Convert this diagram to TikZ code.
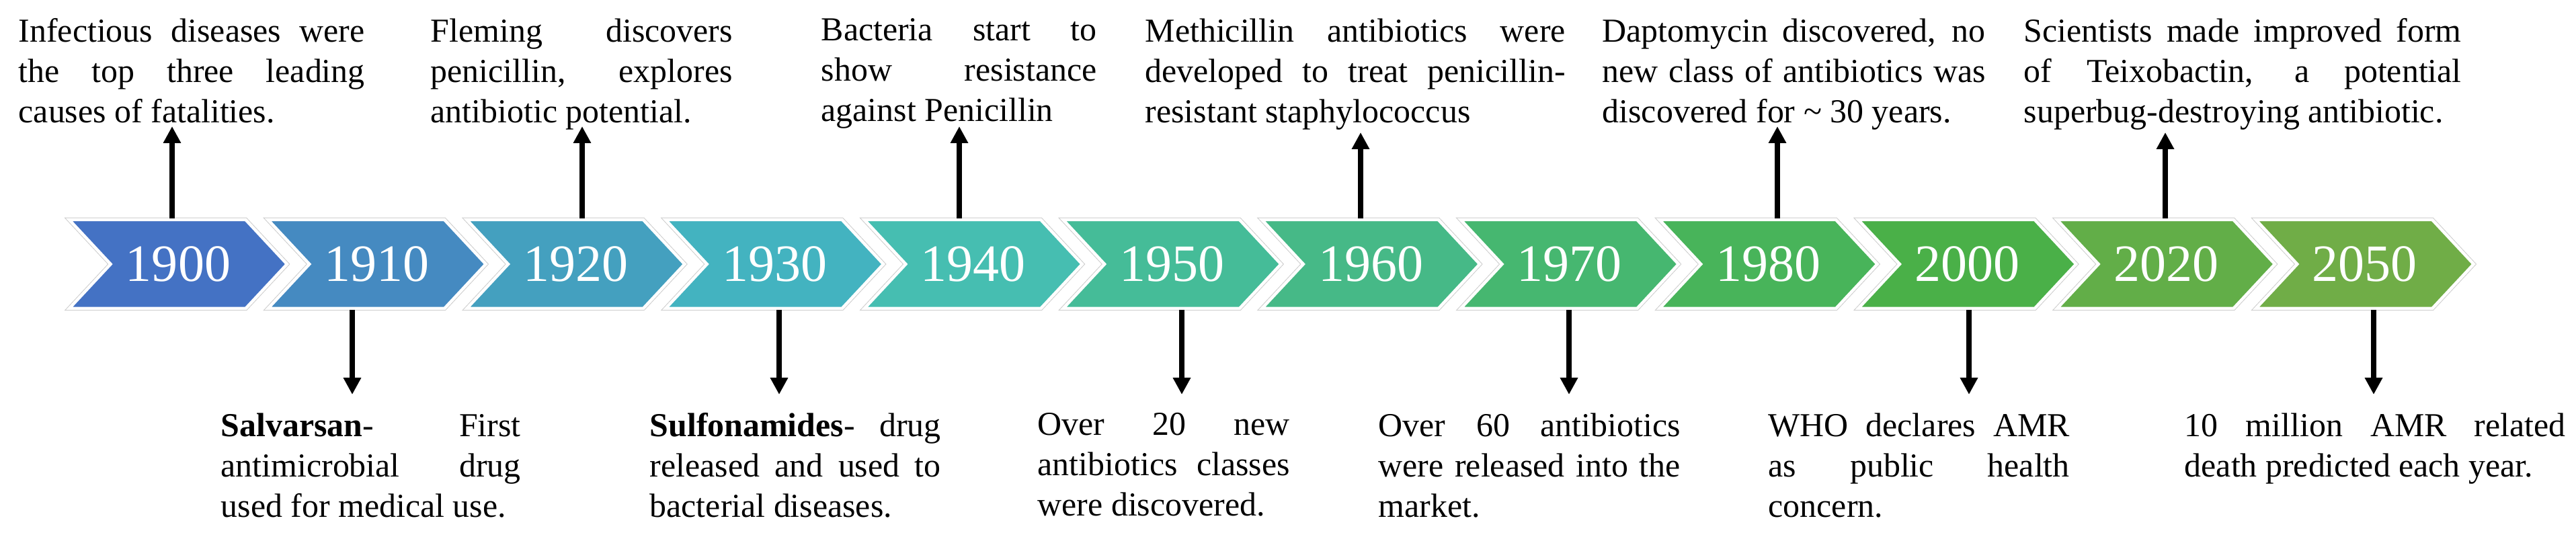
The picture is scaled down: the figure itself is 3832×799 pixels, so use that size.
\documentclass[tikz,border=0pt]{standalone}
\usepackage{fontspec}
\setmainfont{LiberationSerif}[Extension=.ttf, UprightFont=*-Regular, BoldFont=*-Bold, ItalicFont=*-Italic, BoldItalicFont=*-BoldItalic]
\usepackage{xcolor}
\usepackage{tikz}
\usetikzlibrary{positioning, shapes.symbols, arrows.meta}

\definecolor{c1900}{RGB}{68,114,196}
\definecolor{c1910}{RGB}{69,138,193}
\definecolor{c1920}{RGB}{68,160,191}
\definecolor{c1930}{RGB}{67,179,192}
\definecolor{c1940}{RGB}{70,190,177}
\definecolor{c1950}{RGB}{69,188,152}
\definecolor{c1960}{RGB}{70,185,135}
\definecolor{c1970}{RGB}{70,183,112}
\definecolor{c1980}{RGB}{72,180,90}
\definecolor{c2000}{RGB}{74,176,72}
\definecolor{c2020}{RGB}{98,174,72}
\definecolor{c2050}{RGB}{112,173,71}

\newcommand{\evtfont}{\fontsize{14.2pt}{17.07pt}\selectfont\tolerance=9999\hyphenpenalty=10000\relax}

\begin{document}
\begin{tikzpicture}[
        x=0.1mm, y=0.1mm,
        chev/.style={signal, signal from=west, signal to=east, signal pointer angle=94,
            minimum width=32.4mm, minimum height=13.2mm, inner sep=0pt,
            draw=white, line width=0.45mm, preaction={draw=gray!40, line width=0.65mm},
            text=white, font=\fontsize{22.2pt}{22.2pt}\selectfont},
        evt/.style={anchor=north west, inner sep=0pt, align=justify, font=\evtfont},
        arrow/.style={-{Triangle[width=2.5mm, length=2.5mm]}, line width=0.75mm}
    ]
    \useasboundingbox (0,0) rectangle (3832,799);

    % Years -----------------------------------------------
    \node[chev, fill=c1900] (y1900) at (265,406)    {1900};
    \node[chev, fill=c1910] (y1910) at (560.7,406)  {1910};
    \node[chev, fill=c1920] (y1920) at (856.4,406)  {1920};
    \node[chev, fill=c1930] (y1930) at (1152.1,406) {1930};
    \node[chev, fill=c1940] (y1940) at (1447.8,406) {1940};
    \node[chev, fill=c1950] (y1950) at (1743.5,406) {1950};
    \node[chev, fill=c1960] (y1960) at (2039.2,406) {1960};
    \node[chev, fill=c1970] (y1970) at (2334.9,406) {1970};
    \node[chev, fill=c1980] (y1980) at (2630.6,406) {1980};
    \node[chev, fill=c2000] (y2000) at (2926.3,406) {2000};
    \node[chev, fill=c2020] (y2020) at (3222,406)   {2020};
    \node[chev, fill=c2050] (y2050) at (3517.7,406) {2050};

    % Events above
    \node[evt, text width=51.5mm] (e1900) at (27,772)
        {Infectious diseases were\linebreak the top three leading\linebreak causes of fatalities.};
    \node[evt, text width=44.9mm] (e1920) at (640,772)
        {Fleming discovers\linebreak penicillin, explores\linebreak antibiotic potential.};
    \node[evt, text width=41mm] (e1940) at (1221,772)
        {Bacteria start to\linebreak show resistance\linebreak against Penicillin};
    \node[evt, text width=62.5mm] (e1960) at (1703,772)
        {Methicillin antibiotics were\linebreak developed to treat penicillin-\linebreak resistant staphylococcus};
    \node[evt, text width=57mm] (e1980) at (2383,772)
        {Daptomycin discovered, no\linebreak new class of antibiotics was\linebreak discovered for \textasciitilde{} 30 years.};
    \node[evt, text width=65.1mm] (e2020) at (3010,772)
        {Scientists made improved form\linebreak of Teixobactin, a potential\linebreak superbug-destroying antibiotic.};

    % Events below
    \node[evt, text width=44.6mm] (e1910) at (328,185)
        {\textbf{Salvarsan}- First\linebreak antimicrobial drug\linebreak used for medical use.};
    \node[evt, text width=43.3mm] (e1930) at (966,185)
        {\textbf{Sulfonamides}- drug\linebreak released and used to\linebreak bacterial diseases.};
    \node[evt, text width=37.5mm] (e1950) at (1543,185)
        {Over 20 new\linebreak antibiotics classes\linebreak were discovered.};
    \node[evt, text width=44.9mm] (e1970) at (2050,185)
        {Over 60 antibiotics\linebreak were released into the\linebreak market.};
    \node[evt, text width=44.8mm] (e2000) at (2630,185)
        {WHO declares AMR\linebreak as public health\linebreak concern.};
    \node[evt, text width=56.7mm] (e2050) at (3249,185)
        {10 million AMR related\linebreak death predicted each year.};

    % arrow tips
    \coordinate (a1900) at (256,611);
    \coordinate (a1920) at (866,611);
    \coordinate (a1940) at (1427,611);
    \coordinate (a1960) at (2024,602);
    \coordinate (a1980) at (2644,611);
    \coordinate (a2020) at (3221,602);
    \coordinate (a1910) at (524,212);
    \coordinate (a1930) at (1159,212);
    \coordinate (a1950) at (1758,212);
    \coordinate (a1970) at (2334,212);
    \coordinate (a2000) at (2929,212);
    \coordinate (a2050) at (3531,212);

    \draw[arrow] (y1900.north -| a1900) -- (a1900);
    \draw[arrow] (y1920.north -| a1920) -- (a1920);
    \draw[arrow] (y1940.north -| a1940) -- (a1940);
    \draw[arrow] (y1960.north -| a1960) -- (a1960);
    \draw[arrow] (y1980.north -| a1980) -- (a1980);
    \draw[arrow] (y2020.north -| a2020) -- (a2020);

    \draw[arrow] (y1910.south -| a1910) -- (a1910);
    \draw[arrow] (y1930.south -| a1930) -- (a1930);
    \draw[arrow] (y1950.south -| a1950) -- (a1950);
    \draw[arrow] (y1970.south -| a1970) -- (a1970);
    \draw[arrow] (y2000.south -| a2000) -- (a2000);
    \draw[arrow] (y2050.south -| a2050) -- (a2050);
\end{tikzpicture}
\end{document}
